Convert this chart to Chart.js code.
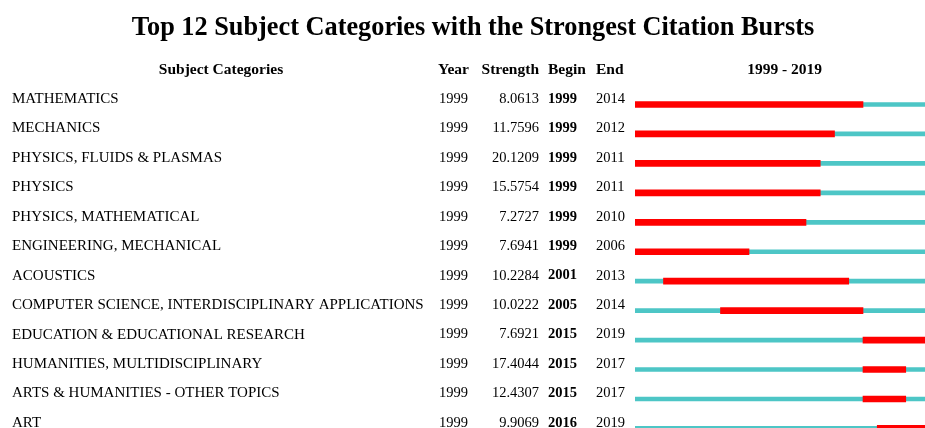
<!DOCTYPE html>
<html>
<head>
<meta charset="utf-8">
<script src="https://cdn.jsdelivr.net/npm/chart.js@4.4.1/dist/chart.umd.min.js"></script>
<style>
  html, body { margin: 0; padding: 0; background: #fff; }
  #wrap { width: 925px; height: 428px; position: relative; }
</style>
</head>
<body>
<div id="wrap"><canvas id="burstChart" width="925" height="428"></canvas></div>
<script>
// burst table data
const categories = [
  'MATHEMATICS',
  'MECHANICS',
  'PHYSICS, FLUIDS & PLASMAS',
  'PHYSICS',
  'PHYSICS, MATHEMATICAL',
  'ENGINEERING, MECHANICAL',
  'ACOUSTICS',
  'COMPUTER SCIENCE, INTERDISCIPLINARY APPLICATIONS',
  'EDUCATION & EDUCATIONAL RESEARCH',
  'HUMANITIES, MULTIDISCIPLINARY',
  'ARTS & HUMANITIES - OTHER TOPICS',
  'ART'
];
const years = [1999, 1999, 1999, 1999, 1999, 1999, 1999, 1999, 1999, 1999, 1999, 1999];
const strengths = ['8.0613', '11.7596', '20.1209', '15.5754', '7.2727', '7.6941',
                   '10.2284', '10.0222', '7.6921', '17.4044', '12.4307', '9.9069'];
const beginYears = [1999, 1999, 1999, 1999, 1999, 1999, 2001, 2005, 2015, 2015, 2015, 2016];
const endYears = [2014, 2012, 2011, 2011, 2010, 2006, 2013, 2014, 2019, 2017, 2017, 2019];
const firstYear = 1999;
const lastYear = 2019;

const serif = '"Liberation Serif", "Times New Roman", serif';

// draws the title and the table columns next to the bars
const tablePlugin = {
    id: 'burstTable',
    afterDatasetsDraw(chart) {
        const ctx = chart.ctx;
        const x = chart.scales.x;
        const y = chart.scales.y;
        ctx.save();
        ctx.fillStyle = '#000';

        // title
        ctx.font = 'bold 26.3px ' + serif;
        ctx.textAlign = 'center';
        ctx.textBaseline = 'alphabetic';
        ctx.fillText('Top 12 Subject Categories with the Strongest Citation Bursts', 473, 35);

        ctx.textBaseline = 'middle';
        // header row
        ctx.font = 'bold 15.5px ' + serif;
        ctx.fillText('Subject Categories', 221, 70);
        ctx.textAlign = 'left';
        ctx.fillText('Year', 438, 70);
        ctx.fillText('Begin', 548, 70);
        ctx.fillText('End', 596, 70);
        ctx.textAlign = 'right';
        ctx.fillText('Strength', 539, 70);
        ctx.textAlign = 'center';
        const mid = (x.getPixelForValue(firstYear) + x.getPixelForValue(lastYear + 1)) / 2;
        ctx.fillText(firstYear + ' - ' + lastYear, mid, 70);

        // rows
        categories.forEach((cat, i) => {
            const ty = y.getPixelForValue(i) - 5.5;
            ctx.textAlign = 'left';
            ctx.font = '15px ' + serif;
            ctx.fillText(cat, 12, ty);
            ctx.font = '14.5px ' + serif;
            ctx.fillText(String(years[i]), 439, ty);
            ctx.fillText(String(endYears[i]), 596, ty);
            ctx.textAlign = 'right';
            ctx.fillText(strengths[i], 539, ty);
            ctx.font = 'bold 14.5px ' + serif;
            ctx.textAlign = 'left';
            ctx.fillText(String(beginYears[i]), 548, ty);
        });
        ctx.restore();
    }
};

const ctx = document.getElementById('burstChart');

new Chart(ctx, {
    type: 'bar',
    data: {
        datasets: [
            {
                label: 'burst',
                data: categories.map((c, i) => ({ y: i, x: [beginYears[i], endYears[i] + 1] })),
                backgroundColor: '#ff0000',
                barThickness: 6,
                grouped: false,
                order: 0
            },
            {
                label: 'span',
                data: categories.map((c, i) => ({ y: i, x: [firstYear, lastYear + 1] })),
                backgroundColor: '#4dc6c6',
                barThickness: 4,
                grouped: false,
                order: 1
            }
        ]
    },
    options: {
        indexAxis: 'y',
        responsive: false,
        animation: false,
        layout: { padding: { left: 635, top: 90, right: 0, bottom: 0 } },
        scales: {
            x: {
                type: 'linear',
                min: firstYear,
                max: 2019.351,
                display: false
            },
            y: {
                type: 'linear',
                reverse: true,
                offset: false,
                min: -0.4924,
                max: 10.985,
                display: false
            }
        },
        plugins: {
            legend: { display: false },
            tooltip: { enabled: false }
        }
    },
    plugins: [tablePlugin]
});
</script>
</body>
</html>
